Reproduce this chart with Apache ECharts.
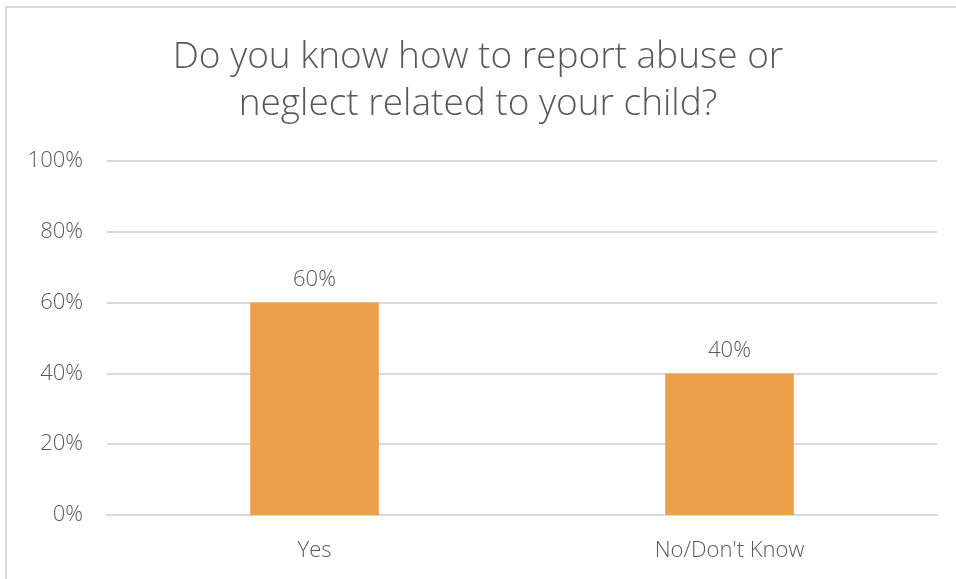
<!DOCTYPE html>
<html><head><meta charset="utf-8">
<script src="https://cdn.jsdelivr.net/npm/echarts@6/dist/echarts.min.js"></script>
<style>
html,body{margin:0;padding:0;background:#fff;}
#frame{position:absolute;left:5px;top:6px;width:1000px;height:600px;border-left:2px solid #d9d9d9;border-top:2px solid #d9d9d9;}
#c{position:absolute;left:0;top:0;width:956px;height:579px;}
</style></head>
<body>
<div id="frame"></div>
<div id="c"></div>
<script>
const titleText = "Do you know how to report abuse or\nneglect related to your child?";
const categories = ["Yes", "No/Don't Know"];
const values = [60, 40];
const yTicks = [0, 20, 40, 60, 80, 100];

const FONT = "'Open Sans', Lato, sans-serif";
const chart = echarts.init(document.getElementById('c'));
chart.setOption({
  animation: false,
  backgroundColor: 'transparent',
  title: {
    text: titleText,
    left: 'center',
    top: 29,
    textStyle: {fontFamily: FONT, fontWeight: 300, fontSize: 37, color: '#595959', lineHeight: 47}
  },
  grid: {left: 107, right: 19, top: 161, bottom: 64, containLabel: false},
  xAxis: {
    type: 'category',
    data: categories,
    axisLine: {show: true, lineStyle: {color: '#d9d9d9', width: 2}},
    axisTick: {show: false},
    axisLabel: {fontFamily: FONT, fontWeight: 300, fontSize: 22, color: '#595959', margin: 25}
  },
  yAxis: {
    type: 'value',
    min: yTicks[0], max: yTicks[yTicks.length-1], interval: 20,
    axisLine: {show: false},
    axisTick: {show: false},
    splitLine: {lineStyle: {color: '#d9d9d9', width: 2}},
    axisLabel: {fontFamily: FONT, fontWeight: 300, fontSize: 22, color: '#595959', margin: 24,
      formatter: v => v + '%'}
  },
  series: [{
    type: 'bar',
    data: values,
    barWidth: '31%',
    itemStyle: {color: '#EDA04C'},
    label: {show: true, position: 'top', distance: 12, fontFamily: FONT, fontWeight: 300, fontSize: 22, color: '#595959',
      formatter: p => p.value + '%'}
  }]
});
</script>
</body></html>
